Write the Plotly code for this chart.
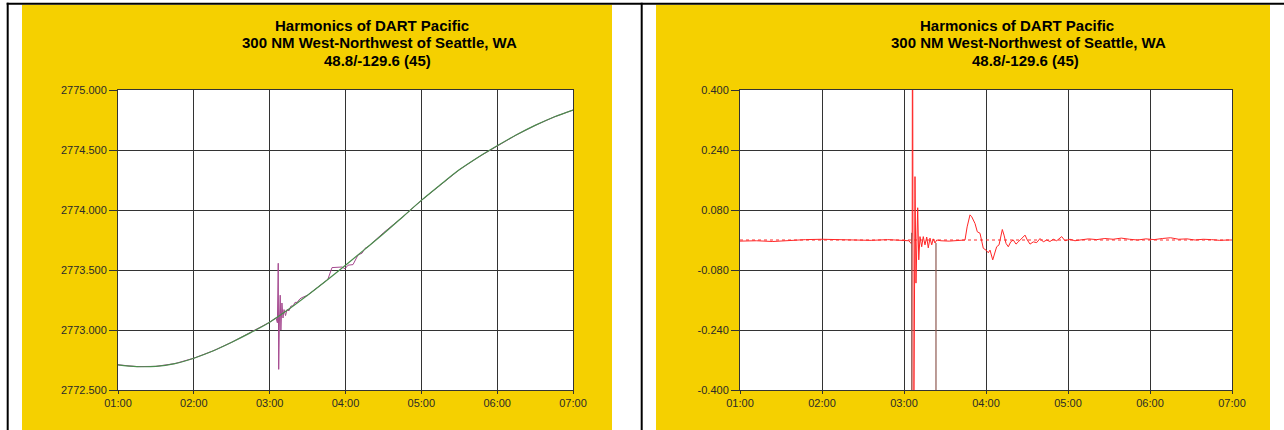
import plotly.graph_objects as go

W, H = 1284, 430

# ---- axes labels -----------------------------------------------------------
tick_hours = [1, 2, 3, 4, 5, 6, 7]
tick_labels = ["01:00", "02:00", "03:00", "04:00", "05:00", "06:00", "07:00"]

height_ticks = [2772.5, 2773.0, 2773.5, 2774.0, 2774.5, 2775.0]
height_labels = ["2772.500", "2773.000", "2773.500", "2774.000", "2774.500", "2775.000"]

residual_ticks = [-0.40, -0.24, -0.08, 0.08, 0.24, 0.40]
residual_labels = ["-0.400", "-0.240", "-0.080", "0.080", "0.240", "0.400"]

title_lines = [
    "Harmonics of DART Pacific",
    "300 NM West-Northwest of Seattle, WA",
    "48.8/-129.6 (45)",
]

# ---- predicted (harmonic) water column height ------------------------------
harmonic_hours = [1.00, 1.25, 1.50, 1.75, 2.00, 2.25, 2.50, 2.75, 3.00, 3.25,
                  3.50, 3.75, 4.00, 4.25, 4.50, 4.75, 5.00, 5.25, 5.50, 5.75,
                  6.00, 6.25, 6.50, 6.75, 7.00]
harmonic_height = [2772.710, 2772.695, 2772.697, 2772.720, 2772.765, 2772.825,
                   2772.898, 2772.978, 2773.065, 2773.172, 2773.290, 2773.413,
                   2773.540, 2773.670, 2773.802, 2773.940, 2774.080, 2774.210,
                   2774.335, 2774.440, 2774.535, 2774.625, 2774.705, 2774.775,
                   2774.833]

# ---- observed water column height ------------------------------------------
observed_hours = [1.00, 1.25, 1.50, 1.75, 2.00, 2.25, 2.50, 2.75, 3.00, 3.084,
                  3.102, 3.113, 3.119, 3.128, 3.139, 3.148, 3.162, 3.176, 3.189,
                  3.209, 3.229, 3.255, 3.281, 3.308, 3.334, 3.361, 3.400, 3.427,
                  3.50, 3.75, 3.769, 3.822, 3.888, 3.954, 3.993, 4.033, 4.099,
                  4.165, 4.218, 4.257, 4.310, 4.390, 4.50, 4.60, 4.75, 5.00,
                  5.25, 5.50, 5.75, 6.00, 6.25, 6.50, 6.75, 7.00]
observed_height = [2772.710, 2772.695, 2772.697, 2772.720, 2772.765, 2772.825,
                   2772.898, 2772.978, 2773.065, 2773.100, 2773.060, 2773.556,
                   2772.672, 2773.050, 2773.290, 2773.000, 2773.225, 2773.100,
                   2773.170, 2773.120, 2773.170, 2773.160, 2773.200, 2773.200,
                   2773.230, 2773.230, 2773.260, 2773.270, 2773.290, 2773.413,
                   2773.425, 2773.520, 2773.525, 2773.525, 2773.510, 2773.540,
                   2773.545, 2773.625, 2773.640, 2773.680, 2773.700, 2773.750,
                   2773.810, 2773.862, 2773.940, 2774.080, 2774.210, 2774.335,
                   2774.440, 2774.535, 2774.625, 2774.705, 2774.775, 2774.833]

# ---- residual (observed minus predicted) -----------------------------------
residual_hours = [1.00, 1.20, 1.40, 1.60, 1.80, 2.00, 2.20, 2.40, 2.60, 2.80,
                  3.00, 3.06, 3.09, 3.100, 3.104, 3.114, 3.134, 3.146, 3.167,
                  3.180, 3.195, 3.216, 3.235, 3.256, 3.277, 3.296, 3.317, 3.338,
                  3.357, 3.378, 3.399, 3.45, 3.55, 3.65, 3.70, 3.744, 3.770,
                  3.805, 3.826, 3.866, 3.894, 3.927, 3.967, 4.000, 4.028, 4.049,
                  4.082, 4.110, 4.130, 4.159, 4.179, 4.199, 4.220, 4.244, 4.272,
                  4.301, 4.333, 4.366, 4.394, 4.435, 4.476, 4.504, 4.537, 4.577,
                  4.618, 4.659, 4.699, 4.740, 4.780, 4.820, 4.862, 4.923, 4.963,
                  5.024, 5.085, 5.146, 5.25, 5.35, 5.45, 5.55, 5.65, 5.75, 5.85,
                  5.95, 6.05, 6.15, 6.25, 6.35, 6.45, 6.55, 6.65, 6.75, 6.85,
                  6.95, 7.00]
residual_value = [-0.003, -0.002, -0.004, -0.001, 0.001, 0.002, 0.001, 0.000,
                  -0.001, 0.001, 0.000, -0.002, -0.010, 0.020, 0.900, -0.900,
                  0.169, -0.115, 0.086, -0.053, 0.009, -0.018, 0.009, -0.013,
                  0.008, -0.021, 0.005, -0.013, 0.003, -0.008, 0.000, -0.002,
                  -0.003, -0.002, -0.001, 0.000, 0.035, 0.067, 0.062, 0.044,
                  0.022, 0.018, -0.022, -0.027, -0.034, -0.027, -0.053, -0.031,
                  -0.018, -0.013, 0.013, 0.028, 0.013, -0.009, -0.018, -0.005,
                  0.000, -0.011, -0.005, 0.004, 0.013, 0.000, -0.011, -0.005,
                  -0.007, 0.004, -0.005, 0.000, -0.004, 0.002, -0.002, 0.009,
                  -0.002, 0.002, -0.002, 0.000, 0.003, 0.001, 0.004, 0.002,
                  0.005, 0.002, 0.000, 0.003, 0.001, 0.004, 0.006, 0.002,
                  0.003, 0.000, 0.002, 0.001, -0.001, 0.000, 0.000]

# samples flagged as dropouts (drawn to the floor of the scale)
dropout_hours = [3.094, 3.390]
dropout_start = [0.019, -0.008]
dropout_floor = -1.0

zero_hours = [1.0, 7.0]
zero_value = [0.0, 0.0]

# ---- colours ---------------------------------------------------------------
PANEL = "#F5D000"
GRID = "#333333"
TEXT = "#2a2a2a"
FONT = "Liberation Sans, Arial, sans-serif"

# ---- geometry (pixels) -----------------------------------------------------
left_plot = (118, 573)
right_plot = (740, 1232)
plot_top, plot_bottom = 90, 390
title_rows = [25.5, 43.0, 60.0]
title_centres = [[372, 379, 377], [1017, 1028, 1025]]


def fx(px):
    return px / W


def fy(px):
    return 1 - px / H


fig = go.Figure()

fig.add_trace(go.Scatter(
    x=observed_hours, y=observed_height, mode="lines",
    line=dict(color="#a5488f", width=1), xaxis="x", yaxis="y",
    hoverinfo="skip"))
fig.add_trace(go.Scatter(
    x=harmonic_hours, y=harmonic_height, mode="lines",
    line=dict(color="#4a8c4c", width=1.2, shape="spline"),
    xaxis="x", yaxis="y", hoverinfo="skip"))

fig.add_trace(go.Scatter(
    x=zero_hours, y=zero_value, mode="lines",
    line=dict(color="#ff2a2a", width=1, dash="dot"),
    xaxis="x2", yaxis="y2", hoverinfo="skip"))
fig.add_trace(go.Scatter(
    x=residual_hours, y=residual_value, mode="lines",
    line=dict(color="#ff2626", width=1),
    xaxis="x2", yaxis="y2", hoverinfo="skip"))

drop_x, drop_y = [], []
for h, v in zip(dropout_hours, dropout_start):
    drop_x += [h, h, None]
    drop_y += [v, dropout_floor, None]
fig.add_trace(go.Scatter(
    x=drop_x, y=drop_y, mode="lines",
    line=dict(color="#8f5a52", width=1.2),
    xaxis="x2", yaxis="y2", hoverinfo="skip"))

axis_common = dict(
    showgrid=True, gridcolor=GRID, gridwidth=1,
    showline=True, linecolor=GRID, linewidth=1, mirror=True,
    ticks="outside", tickcolor=GRID, tickwidth=1,
    tickfont=dict(family=FONT, size=11, color=TEXT),
    zeroline=False, fixedrange=True, automargin=False,
)

shapes = []
# panel backgrounds
for x0, x1 in [(22, 612), (656, 1270)]:
    shapes.append(dict(type="rect", xref="paper", yref="paper",
                       x0=fx(x0), x1=fx(x1), y0=0, y1=fy(4.7),
                       fillcolor=PANEL, line=dict(width=0), layer="below"))
# white plotting areas
for x0, x1 in [left_plot, right_plot]:
    shapes.append(dict(type="rect", xref="paper", yref="paper",
                       x0=fx(x0), x1=fx(x1), y0=fy(plot_bottom), y1=fy(plot_top),
                       fillcolor="white", line=dict(width=0), layer="below"))
# black frame lines
shapes.append(dict(type="rect", xref="paper", yref="paper",
                   x0=fx(6.7), x1=1, y0=fy(4.7), y1=fy(2.7),
                   fillcolor="black", line=dict(width=0), layer="below"))
for xl in [6.7, 640.7]:
    shapes.append(dict(type="rect", xref="paper", yref="paper",
                       x0=fx(xl), x1=fx(xl + 2), y0=0, y1=fy(2.7),
                       fillcolor="black", line=dict(width=0), layer="below"))

annotations = []
for centres in title_centres:
    for text, cx, cy in zip(title_lines, centres, title_rows):
        annotations.append(dict(
            xref="paper", yref="paper", x=fx(cx), y=fy(cy),
            xanchor="center", yanchor="middle", showarrow=False,
            text=text, font=dict(family=FONT, size=15, color="black",
                                 weight="bold")))

fig.update_layout(
    width=W, height=H, autosize=False,
    margin=dict(l=0, r=0, t=0, b=0, pad=0, autoexpand=False),
    paper_bgcolor="white", plot_bgcolor="rgba(0,0,0,0)",
    showlegend=False,
    xaxis=dict(axis_common, domain=[fx(left_plot[0]), fx(left_plot[1])],
               range=[1, 7], tickvals=tick_hours, ticktext=tick_labels,
               ticklen=3, anchor="y"),
    yaxis=dict(axis_common, domain=[fy(plot_bottom), fy(plot_top)],
               range=[2772.5, 2775.0], tickvals=height_ticks,
               ticktext=height_labels, ticklen=8, anchor="x"),
    xaxis2=dict(axis_common, domain=[fx(right_plot[0]), fx(right_plot[1])],
                range=[1, 7], tickvals=tick_hours, ticktext=tick_labels,
                ticklen=3, anchor="y2"),
    yaxis2=dict(axis_common, domain=[fy(plot_bottom), fy(plot_top)],
                range=[-0.4, 0.4], tickvals=residual_ticks,
                ticktext=residual_labels, ticklen=8, anchor="x2"),
    shapes=shapes,
    annotations=annotations,
)

fig.write_html(
    "out.html",
    config={"displayModeBar": False, "responsive": False},
    post_script="document.body.style.margin='0';"
                "document.body.style.overflow='hidden';",
)
